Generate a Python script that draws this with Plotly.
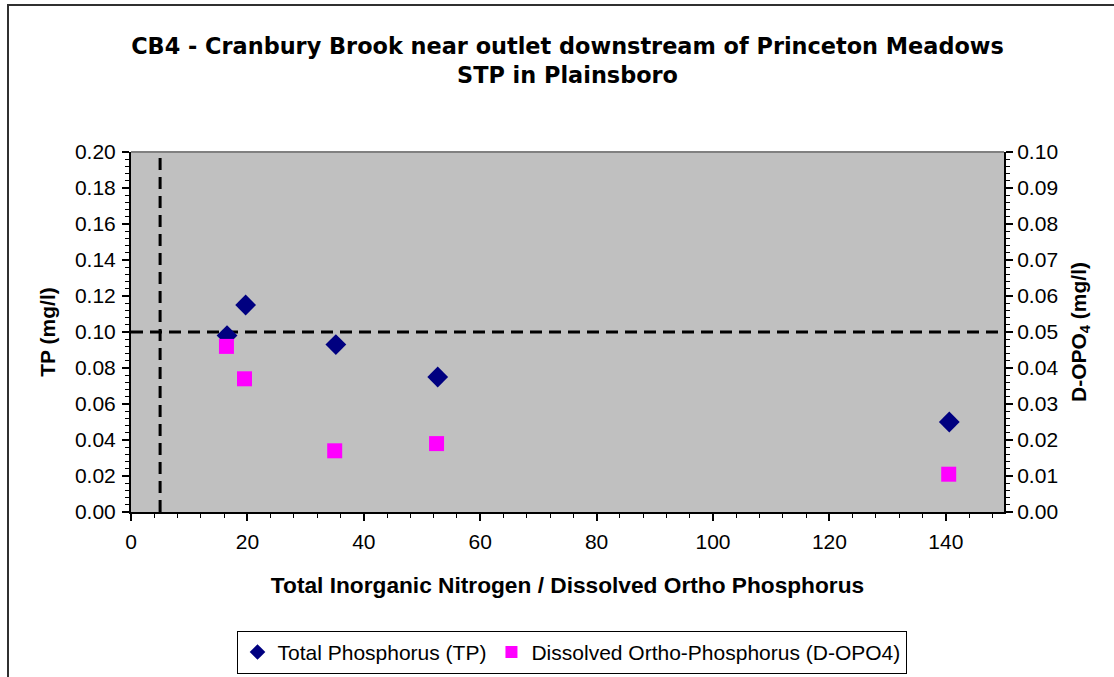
import plotly.graph_objects as go

# ---- data ----
tp_ratio = [16.5, 19.7, 35.2, 52.7, 140.6]
tp_values = [0.098, 0.115, 0.093, 0.075, 0.050]
dopo4_ratio = [16.4, 19.5, 35.0, 52.5, 140.5]
dopo4_values = [0.046, 0.037, 0.017, 0.019, 0.0105]

ref_ratio_x = [5, 5]
ref_ratio_y = [0, 0.2]
ref_tp_x = [0, 150]
ref_tp_y = [0.1, 0.1]

x_ticks = [0, 20, 40, 60, 80, 100, 120, 140]

title_text = ("CB4 - Cranbury Brook near outlet downstream of Princeton Meadows"
              "<br>STP in Plainsboro")

fig = go.Figure()

dash_line = dict(color="black", width=3, dash="12px,7px")
fig.add_trace(go.Scatter(x=ref_ratio_x, y=ref_ratio_y, mode="lines", line=dash_line,
                         showlegend=False, hoverinfo="skip"))
fig.add_trace(go.Scatter(x=ref_tp_x, y=ref_tp_y, mode="lines", line=dash_line,
                         showlegend=False, hoverinfo="skip"))

fig.add_trace(go.Scatter(
    x=tp_ratio, y=tp_values, mode="markers", name="Total Phosphorus (TP)",
    marker=dict(symbol="diamond", size=16, color="#000080", line=dict(width=0)),
))
fig.add_trace(go.Scatter(
    x=dopo4_ratio, y=dopo4_values, mode="markers", yaxis="y2",
    name="Dissolved Ortho-Phosphorus (D-OPO4)",
    marker=dict(symbol="square", size=15, color="#FF00FF", line=dict(width=0)),
))

tick_font = dict(family="Liberation Sans, Arial, sans-serif", size=21, color="black")
title_font = dict(family="Liberation Sans, Arial, sans-serif", size=21, color="black", weight="bold")

fig.update_layout(
    width=1114, height=677,
    margin=dict(l=131, r=110, t=152, b=165, autoexpand=False),
    paper_bgcolor="white",
    plot_bgcolor="#C0C0C0",
    title=dict(
        text=title_text,
        x=0.5, xanchor="center", xref="paper",
        y=1 - 54 / 677, yanchor="top", yref="container",
        font=dict(family="DejaVu Sans, sans-serif", size=22.4, color="black", weight="bold"),
    ),
    xaxis=dict(
        range=[0, 150], tickvals=x_ticks, ticks="outside", ticklen=7, tickwidth=1.5,
        tickcolor="black", showline=True, linecolor="black", linewidth=2,
        showgrid=False, zeroline=False, tickfont=tick_font, ticklabelstandoff=3,
        minor=dict(dtick=4, ticks="outside", ticklen=4, tickcolor="black", tickwidth=1),
        title=dict(text="Total Inorganic Nitrogen / Dissolved Ortho Phosphorus",
                   font=dict(family="Liberation Sans, Arial, sans-serif", size=22.7,
                             color="black", weight="bold"), standoff=25),
    ),
    yaxis=dict(
        range=[0, 0.2], dtick=0.02, tickformat=".2f", ticks="outside", ticklen=7,
        tickwidth=1.5, tickcolor="black", showline=True, linecolor="black", linewidth=2,
        showgrid=False, zeroline=False, tickfont=tick_font, ticklabelstandoff=2,
        minor=dict(dtick=0.004, ticks="outside", ticklen=4, tickcolor="black", tickwidth=1),
        title=dict(text="TP (mg/l)", font=title_font, standoff=14),
    ),
    yaxis2=dict(
        range=[0, 0.1], dtick=0.01, tickformat=".2f", overlaying="y", side="right",
        ticks="outside", ticklen=7, tickwidth=1.5, tickcolor="black", showline=True,
        linecolor="black", linewidth=2, showgrid=False, zeroline=False,
        tickfont=tick_font, ticklabelstandoff=0,
        minor=dict(dtick=0.002, ticks="outside", ticklen=4, tickcolor="black", tickwidth=1),
        title=dict(text="D-OPO<sub>4</sub> (mg/l)", font=title_font, standoff=14),
    ),
    legend=dict(
        orientation="h", x=0.5046, xanchor="center", y=-0.33, yanchor="top",
        bgcolor="white", bordercolor="black", borderwidth=1,
        font=dict(family="Liberation Sans, Arial, sans-serif", size=21, color="black"),
        itemsizing="constant",
    ),
    shapes=[
        # plot area top border (grey)
        dict(type="line", xref="paper", yref="paper", x0=0, x1=1, y0=1, y1=1,
             line=dict(color="#808080", width=2), layer="above"),
        # outer chart border
        dict(type="rect", xref="paper", yref="paper",
             x0=(8 - 131) / 873, x1=(1125 - 131) / 873,
             y0=-(690 - 512) / 360, y1=1 + (152 - 5) / 360,
             line=dict(color="#303030", width=2), fillcolor="rgba(0,0,0,0)", layer="below"),
    ],
)

fig.write_html("out.html", config={"displayModeBar": False},
               post_script="document.body.style.margin='0';")
